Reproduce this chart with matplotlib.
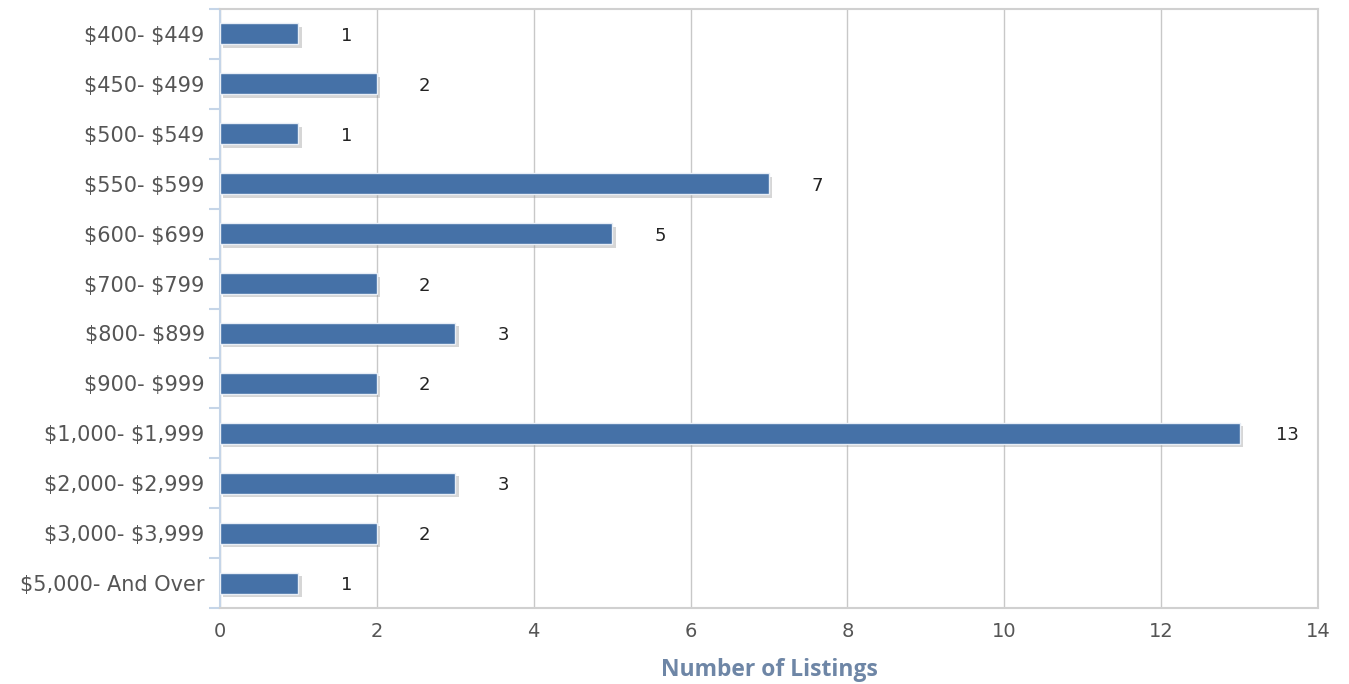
import matplotlib.pyplot as plt
import matplotlib.patheffects as pe
from matplotlib.ticker import FixedLocator, NullFormatter

# --- Data ---
price_ranges = ['$400- $449', '$450- $499', '$500- $549', '$550- $599', '$600- $699',
                '$700- $799', '$800- $899', '$900- $999', '$1,000- $1,999',
                '$2,000- $2,999', '$3,000- $3,999', '$5,000- And Over']
listings = [1, 2, 1, 7, 5, 2, 3, 2, 13, 3, 2, 1]

plt.rcParams['font.family'] = ['DejaVu Sans']
plt.rcParams['text.parse_math'] = False

fig = plt.figure(figsize=(13.49, 6.84), dpi=100)
ax = fig.add_axes([220 / 1349, 1 - 608 / 684, (1318 - 220) / 1349, (608 - 9) / 684])

ypos = list(range(len(price_ranges)))
bars = ax.barh(ypos, listings, height=0.42, color='#4571A7', edgecolor='#E8EEF6',
               linewidth=1.0, zorder=3)
for b in bars:
    b.set_path_effects([pe.SimplePatchShadow(offset=(2.5, -2.5), shadow_rgbFace='#999999', alpha=0.4),
                        pe.Normal()])

# value labels
for y, v in zip(ypos, listings):
    ax.annotate(str(v), (v, y), xytext=(34.5, 0), textcoords='offset points',
                ha='center', va='center_baseline', fontsize=13, color='#222222')

ax.set_xlim(0, 14)
ax.set_ylim(len(price_ranges) - 0.5, -0.5)
ax.set_xticks(range(0, 15, 2))
ax.set_yticks(ypos)
ax.set_yticklabels(price_ranges)
ax.yaxis.set_minor_locator(FixedLocator([i + 0.5 for i in range(-1, len(price_ranges))]))
ax.yaxis.set_minor_formatter(NullFormatter())

ax.tick_params(axis='y', which='major', length=0, pad=11, labelsize=15, labelcolor='#555555')
ax.tick_params(axis='y', which='minor', length=8, width=1.5, color='#C5D5E8')
ax.tick_params(axis='x', length=0, pad=10, labelsize=14, labelcolor='#555555')

ax.grid(axis='x', color='#C8C8C8', linewidth=1.0, zorder=0)
for side in ['top', 'right', 'bottom']:
    ax.spines[side].set_color('#D0D0D0')
    ax.spines[side].set_linewidth(1.5)
ax.spines['left'].set_color('#C5D5E8')
ax.spines['left'].set_linewidth(1.5)

ax.set_xlabel('Number of Listings', fontsize=16.5, fontweight='bold', color='#6E86A6',
              labelpad=12, family='Open Sans')

plt.savefig('out.png', dpi=100)
